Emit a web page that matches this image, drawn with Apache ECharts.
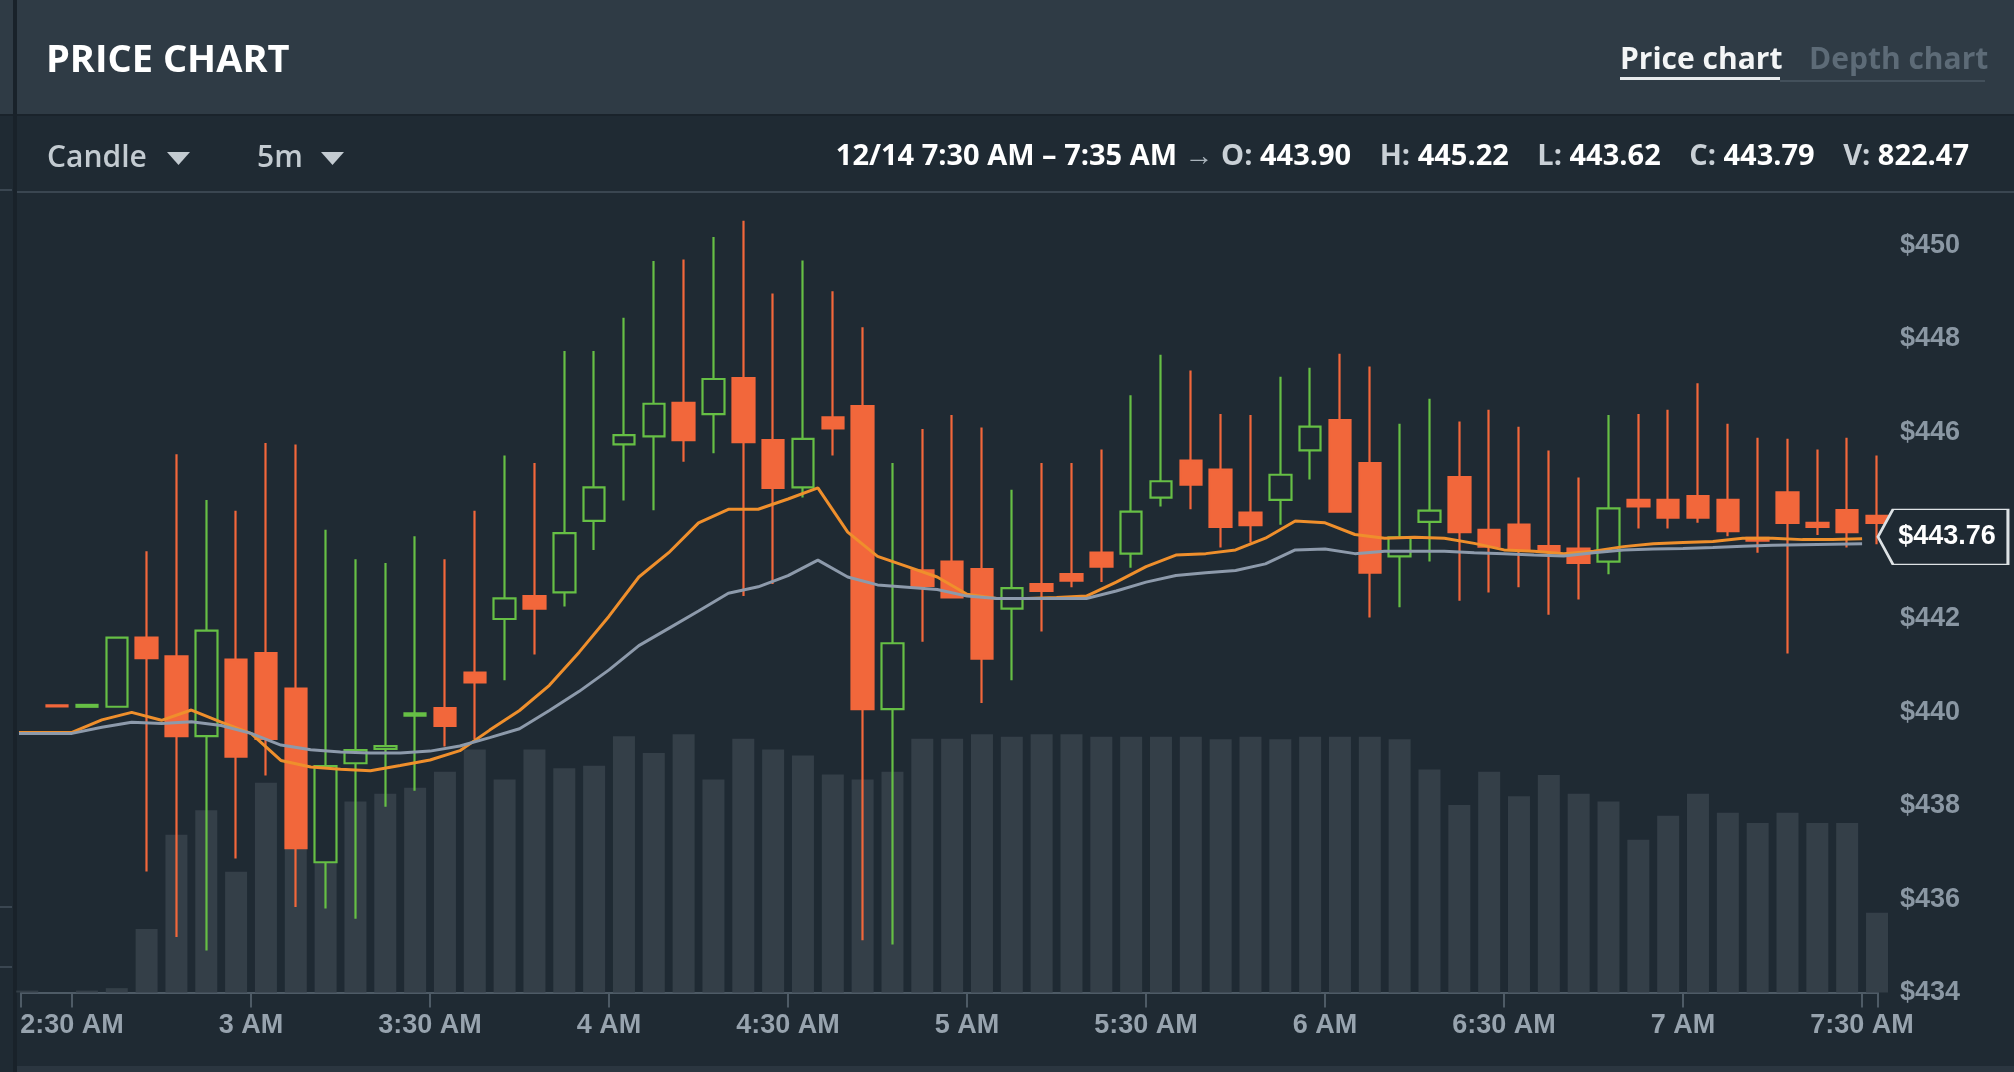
<!DOCTYPE html>
<html>
<head>
<meta charset="utf-8">
<script src="https://cdn.jsdelivr.net/npm/echarts@6/dist/echarts.min.js"></script>
<style>
html,body{margin:0;padding:0;background:#1f2a33;overflow:hidden;}
#chart{width:2014px;height:1072px;}
</style>
</head>
<body>
<div id="chart"></div>
<script>
// ---------- DATA ----------
// candle start times (5-minute candles); first entry has only volume
const times = ['02:20','02:25','02:30','02:35','02:40','02:45','02:50','02:55','03:00','03:05','03:10','03:15','03:20','03:25','03:30','03:35','03:40','03:45','03:50','03:55','04:00','04:05','04:10','04:15','04:20','04:25','04:30','04:35','04:40','04:45','04:50','04:55','05:00','05:05','05:10','05:15','05:20','05:25','05:30','05:35','05:40','05:45','05:50','05:55','06:00','06:05','06:10','06:15','06:20','06:25','06:30','06:35','06:40','06:45','06:50','06:55','07:00','07:05','07:10','07:15','07:20','07:25','07:30'];
const opens  = [null,440.15,440.12,440.12,441.60,441.20,439.49,441.13,441.27,440.51,436.79,438.91,439.22,439.93,440.09,440.85,442.00,442.49,442.57,444.10,445.74,445.91,446.63,446.39,447.16,445.83,444.82,446.32,446.56,440.07,443.04,443.23,443.07,442.22,442.75,442.96,443.42,443.40,444.60,445.39,445.20,444.28,444.55,445.61,446.26,445.34,443.34,444.08,445.04,443.91,444.02,443.56,443.51,443.23,444.55,444.55,444.63,444.55,443.74,444.71,444.06,444.33,444.21];
const closes = [null,440.13,440.16,441.60,441.16,439.49,441.75,439.05,439.43,437.09,438.85,439.19,439.28,439.98,439.71,440.64,442.44,442.22,443.84,444.82,445.94,446.61,445.83,447.14,445.79,444.81,445.86,446.08,440.07,441.48,442.71,442.46,441.15,442.66,442.60,442.82,443.12,444.30,444.95,444.88,443.97,444.01,445.09,446.12,444.30,442.99,443.75,444.32,443.86,443.55,443.48,443.44,443.20,444.37,444.41,444.17,444.17,443.88,443.68,444.06,443.97,443.86,444.06];
const lows   = [null,440.12,440.12,440.10,436.59,435.19,434.90,436.87,438.65,435.83,435.80,435.58,437.98,438.32,439.27,439.43,440.69,441.24,442.27,443.48,444.54,444.33,445.37,445.55,442.49,442.75,444.60,445.50,435.12,435.03,441.51,442.44,440.20,440.69,441.73,442.68,442.79,443.10,444.41,444.35,443.53,443.64,444.02,444.99,444.30,442.03,442.25,443.23,442.39,442.57,442.68,442.09,442.42,442.96,443.94,443.94,444.06,443.77,443.42,441.26,443.80,443.53,443.60];
const highs  = [null,440.16,440.16,441.62,443.45,445.53,444.55,444.32,445.77,445.74,443.91,443.28,443.20,443.77,443.28,444.32,445.50,445.34,447.74,447.74,448.45,449.67,449.70,450.18,450.53,448.97,449.68,449.02,448.25,445.34,446.07,446.37,446.10,444.77,445.34,445.34,445.63,446.79,447.66,447.32,446.39,446.37,447.19,447.38,447.68,447.41,446.18,446.72,446.23,446.48,446.12,445.61,445.03,446.37,446.39,446.48,447.05,446.18,445.88,445.86,445.63,445.88,445.50];
const volumes = [20,0,20,45,654,1628,1881,1245,2165,2095,1990,1971,2050,2113,2277,2508,2197,2508,2313,2340,2645,2471,2666,2197,2618,2508,2445,2250,2197,2277,2618,2618,2666,2640,2666,2666,2640,2640,2640,2640,2613,2640,2613,2640,2640,2640,2613,2301,1934,2277,2024,2245,2050,1971,1576,1824,2050,1855,1749,1855,1749,1749,822.47];
const maFast = [439.57,439.57,439.57,439.84,440.00,439.83,440.05,439.79,439.55,438.97,438.83,438.78,438.75,438.86,438.98,439.18,439.62,440.04,440.58,441.29,442.06,442.90,443.42,444.06,444.35,444.35,444.57,444.81,443.86,443.34,443.12,442.90,442.53,442.44,442.44,442.46,442.49,442.79,443.12,443.37,443.40,443.48,443.73,444.10,444.06,443.81,443.73,443.75,443.73,443.62,443.48,443.45,443.40,443.45,443.55,443.61,443.64,443.66,443.73,443.73,443.70,443.70,443.72];
const maSlow = [439.55,439.55,439.55,439.68,439.79,439.76,439.80,439.72,439.55,439.30,439.20,439.15,439.13,439.13,439.17,439.28,439.46,439.65,440.04,440.45,440.91,441.43,441.80,442.17,442.55,442.69,442.93,443.26,442.90,442.73,442.68,442.63,442.49,442.44,442.44,442.44,442.44,442.60,442.79,442.93,442.99,443.04,443.18,443.48,443.50,443.40,443.45,443.45,443.45,443.42,443.40,443.37,443.35,443.42,443.48,443.50,443.51,443.53,443.56,443.58,443.59,443.60,443.61];
const xTicks = ['02:30','03:00','03:30','04:00','04:30','05:00','05:30','06:00','06:30','07:00','07:30'];
const yTicks = [434,436,438,440,442,444,446,448,450];
const axisStart = '02:21:27';
const axisEnd = '07:32:40';
const lastPrice = 443.76;
const headerRange = '12/14 7:30 AM – 7:35 AM';
const ohlcLabels = ['O','H','L','C','V'];
const ohlcValues = ['443.90','445.22','443.62','443.79','822.47'];

// ---------- HELPERS ----------
function toMin(s){ const p = s.split(':').map(Number); return p[0]*60 + p[1] + (p[2]||0)/60; }
function fmtTime(v){
  const h = Math.floor(v/60), m = Math.round(v - h*60);
  const hh = (h % 12) || 12, ap = h < 12 ? 'AM' : 'PM';
  return m ? hh + ':' + String(m).padStart(2,'0') + ' ' + ap : hh + ' ' + ap;
}
const half = 2.5; // candle centre = start + half period
const xMin = toMin(axisStart), xMax = toMin(axisEnd);

const candleData = [];
times.forEach((t,i)=>{ if(opens[i]!=null) candleData.push([toMin(t)+half, opens[i], closes[i], lows[i], highs[i]]); });
const volData = times.map((t,i)=>[toMin(t)+half, volumes[i]]);
const fastData = times.map((t,i)=>[toMin(t), maFast[i]]);
const slowData = times.map((t,i)=>[toMin(t), maSlow[i]]);
const xTickVals = xTicks.map(toMin);

const BG = '#1f2a33';
const AXIS_FONT = '"Liberation Sans", Arial, sans-serif';
const UI_FONT = '"Open Sans", "Noto Sans", sans-serif';

let rich = '{w|' + headerRange + '}{g| → }';
ohlcLabels.forEach((l,i)=>{ if(i) rich += '{sp| }'; rich += '{l|' + l + ': }{w|' + ohlcValues[i] + '}'; });

const chart = echarts.init(document.getElementById('chart'), null, {renderer:'canvas'});
chart.setOption({
  animation:false,
  backgroundColor: BG,
  graphic:[
    {type:'rect', silent:true, z:-10, shape:{x:0,y:0,width:2014,height:115}, style:{fill:'#2f3b45'}},
    {type:'rect', silent:true, z:-9, shape:{x:0,y:114,width:2014,height:2}, style:{fill:'#1a232b'}},
    {type:'rect', silent:true, z:-9, shape:{x:17,y:191,width:1997,height:2}, style:{fill:'#3a4651'}},
    {type:'rect', silent:true, z:-9, shape:{x:13,y:0,width:4,height:1072}, style:{fill:'#19222a'}},
    {type:'rect', silent:true, z:-9, shape:{x:17,y:1066,width:1997,height:6}, style:{fill:'#2b3640'}},
    {type:'rect', silent:true, z:-9, shape:{x:0,y:189,width:12,height:2}, style:{fill:'#3a4651'}},
    {type:'rect', silent:true, z:-9, shape:{x:0,y:906,width:12,height:2}, style:{fill:'#3a4651'}},
    {type:'rect', silent:true, z:-9, shape:{x:0,y:966,width:12,height:2}, style:{fill:'#3a4651'}},
    {type:'text', silent:true, style:{x:46, y:61, text:'PRICE CHART', font:'bold 38px ' + UI_FONT, fill:'#ffffff', verticalAlign:'middle'}},
    {type:'text', silent:true, style:{x:1620, y:60, text:'Price chart', font:'bold 30px ' + UI_FONT, fill:'#f3f5f6', verticalAlign:'middle'}},
    {type:'rect', silent:true, shape:{x:1620,y:77,width:160,height:3}, style:{fill:'#e8ebed'}},
    {type:'text', silent:true, style:{x:1809, y:60, text:'Depth chart', font:'bold 30px ' + UI_FONT, fill:'#5d6b77', verticalAlign:'middle'}},
    {type:'rect', silent:true, shape:{x:1780,y:80,width:205,height:2}, style:{fill:'#43505b'}},
    {type:'text', silent:true, style:{x:47, y:158, text:'Candle', font:'600 30px ' + UI_FONT, fill:'#c3cbd1', verticalAlign:'middle'}},
    {type:'polygon', silent:true, shape:{points:[[167,152],[190,152],[178.5,165]]}, style:{fill:'#c3cbd1'}},
    {type:'text', silent:true, style:{x:257, y:158, text:'5m', font:'600 30px ' + UI_FONT, fill:'#c3cbd1', verticalAlign:'middle'}},
    {type:'polygon', silent:true, shape:{points:[[321,152],[344,152],[332.5,165]]}, style:{fill:'#c3cbd1'}},
    {type:'text', silent:true, style:{x:1969, y:157, text:rich, align:'right', verticalAlign:'middle',
      font:'bold 29px ' + UI_FONT, fill:'#ffffff',
      rich:{
        w:{fill:'#ffffff', fontSize:29, fontWeight:'bold', fontFamily:UI_FONT},
        g:{fill:'#aab4bc', fontSize:29, fontWeight:'bold', fontFamily:UI_FONT},
        l:{fill:'#c9d0d6', fontSize:29, fontWeight:'bold', fontFamily:UI_FONT},
        sp:{width:28.5, fontSize:29}
      }}}
  ],
  grid:{left:21, right:136, top:198.8, bottom:79.5},
  xAxis:{
    type:'value', min:xMin, max:xMax,
    axisLine:{show:true, lineStyle:{color:'#4e5b66', width:2}},
    axisTick:{show:true, length:15, lineStyle:{color:'#4e5b66', width:2}, customValues:[xMin].concat(xTickVals, [xMax])},
    axisLabel:{customValues:xTickVals, formatter:fmtTime, color:'#97a3ae', fontSize:27, fontWeight:'bold', fontFamily:AXIS_FONT, margin:20},
    splitLine:{show:false}
  },
  yAxis:[
    {type:'value', position:'right', min:434, max:451,
     axisLine:{show:false}, axisTick:{show:false}, splitLine:{show:false},
     axisLabel:{customValues:yTicks, formatter:v=>'$'+v, color:'#8a97a3', fontSize:27, fontWeight:'bold', fontFamily:AXIS_FONT, margin:22}},
    {type:'value', min:0, max:8190, show:false, splitLine:{show:false}}
  ],
  series:[
    {type:'bar', name:'Volume', yAxisIndex:1, data:volData, barWidth:22, z:1,
     itemStyle:{color:'#343f48'}, silent:true},
    {type:'candlestick', name:'Price', data:candleData, encode:{x:0, y:[1,2,3,4]}, barWidth:22, z:3,
     itemStyle:{color:BG, color0:'#f2673b', borderColor:'#66bf45', borderColor0:'#f2673b', borderWidth:2.2},
     markPoint:{
       symbol:'path://M0,27.5L15,0L130,0L130,55L15,55Z', symbolSize:[130,55], symbolOffset:[65,0], symbolKeepAspect:false,
       itemStyle:{color:BG, borderColor:'#dde2e5', borderWidth:2},
       label:{show:true, position:'inside', offset:[4,0], formatter:()=>'$'+lastPrice.toFixed(2), color:'#ffffff', fontSize:27, fontWeight:'bold', fontFamily:AXIS_FONT},
       data:[{coord:[xMax-0.01, lastPrice]}]
     }},
    {type:'line', name:'MA fast', data:fastData, showSymbol:false, z:4, lineStyle:{color:'#ef8f2c', width:3}},
    {type:'line', name:'MA slow', data:slowData, showSymbol:false, z:4, lineStyle:{color:'#8d9aab', width:3}}
  ]
});
</script>
</body>
</html>
